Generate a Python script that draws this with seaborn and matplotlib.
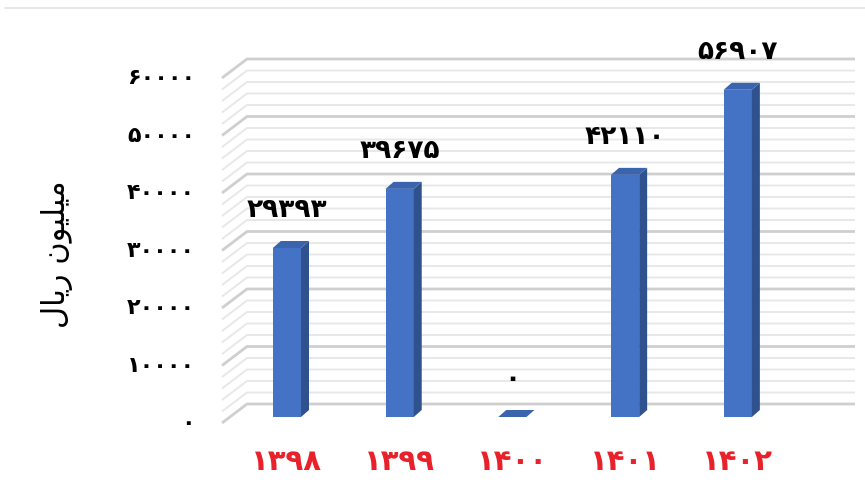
import numpy as np
import matplotlib
matplotlib.use('Agg')
import matplotlib.pyplot as plt
import seaborn as sns
from matplotlib.patches import Polygon
from matplotlib.lines import Line2D

# chart data
years = ['۱۳۹۸', '۱۳۹۹', '۱۴۰۰', '۱۴۰۱', '۱۴۰۲']
values = [29393, 39675, 0, 42110, 56907]
y_ticks = [0, 10000, 20000, 30000, 40000, 50000, 60000]
y_label = 'ﻝﺎﻳﺭ ﻥﻮﻴﻠﻴﻣ'  # "میلیون ریال" in shaped visual order

FA_DIGITS = str.maketrans('0123456789', '۰۱۲۳۴۵۶۷۸۹')


def fa(n):
    return str(n).translate(FA_DIGITS)


sns.set_style('white')
plt.rcParams['font.family'] = ['DejaVu Sans']

front_col = '#4472C4'
side_col = '#2F528F'
top_col = '#3B64AE'
red = '#E8212A'

W, H = 865, 482
fig = plt.figure(figsize=(W / 100, H / 100), dpi=100)
ax = fig.add_axes([222 / W, (H - 417) / H, (855 - 222) / W, (417 - 58) / H])

sns.barplot(x=years, y=values, color=front_col, width=0.25, saturation=1,
            ax=ax, zorder=3)
ax.set_xlim(-0.576, 5.04)
ax.set_ylim(0, 62435)

# data units per pixel
inv = ax.transData.inverted()
p0 = inv.transform((0, 0))
p1 = inv.transform((1, 1))
ux, uy = p1 - p0

# back wall / floor grid (3D look)
bdx, bdy = 25 * ux, 13 * uy   # back wall offset from bar plane
fdx, fdy = 0, -6 * uy         # front edge offset
x_left = ax.get_xlim()[0]
x_right = ax.get_xlim()[1]
for g in range(0, 60001, 2000):
    major = g % 10000 == 0
    col = '#cfcfcf' if major else '#e8e8e8'
    lw = 2.0 if major else 1.4
    ax.plot([x_left + fdx, x_left + bdx, x_right], [g + fdy, g + bdy, g + bdy],
            color=col, lw=lw, zorder=1, clip_on=False, solid_capstyle='butt')

# bar depth faces
ddx, ddy = 8 * ux, 7 * uy
for bar, v in zip(ax.patches, values):
    x0 = bar.get_x()
    x1 = x0 + bar.get_width()
    bar.set_edgecolor('none')
    side = Polygon([(x1, 0), (x1, v), (x1 + ddx, v + ddy), (x1 + ddx, ddy)],
                   closed=True, facecolor=side_col, edgecolor='none', zorder=3)
    top = Polygon([(x0, v), (x1, v), (x1 + ddx, v + ddy), (x0 + ddx, v + ddy)],
                  closed=True, facecolor=top_col, edgecolor='none', zorder=3)
    ax.add_patch(side)
    ax.add_patch(top)

# value labels
for i, v in enumerate(values):
    ax.annotate(fa(v), (i, v), xytext=(0, 38 * 0.72), textcoords='offset points',
                ha='center', va='center', fontsize=19, fontweight='bold',
                color='black', annotation_clip=False)

# y tick labels at the front edge
ax.set_yticks([])
for t in y_ticks:
    ax.annotate(fa(t), (0, t + fdy), xycoords=('axes fraction', 'data'),
                xytext=(-27 * 0.72, 0), textcoords='offset points',
                ha='right', va='center', fontsize=16, fontweight='bold',
                color='black', annotation_clip=False)

ax.tick_params(axis='x', length=0, pad=22, labelsize=21, labelcolor=red)
for lab in ax.get_xticklabels():
    lab.set_fontweight('bold')
ax.set_xlabel('')
ax.set_ylabel('')
sns.despine(ax=ax, left=True, bottom=True)

fig.text(57 / W, 1 - 254 / H, y_label, rotation=90, ha='center', va='center',
         fontsize=22, color='black')

fig.add_artist(Line2D([5 / W, 1], [1 - 8 / H, 1 - 8 / H], color='#e3e3e3', lw=1.2))

fig.savefig('out.png', dpi=100, facecolor='white')
